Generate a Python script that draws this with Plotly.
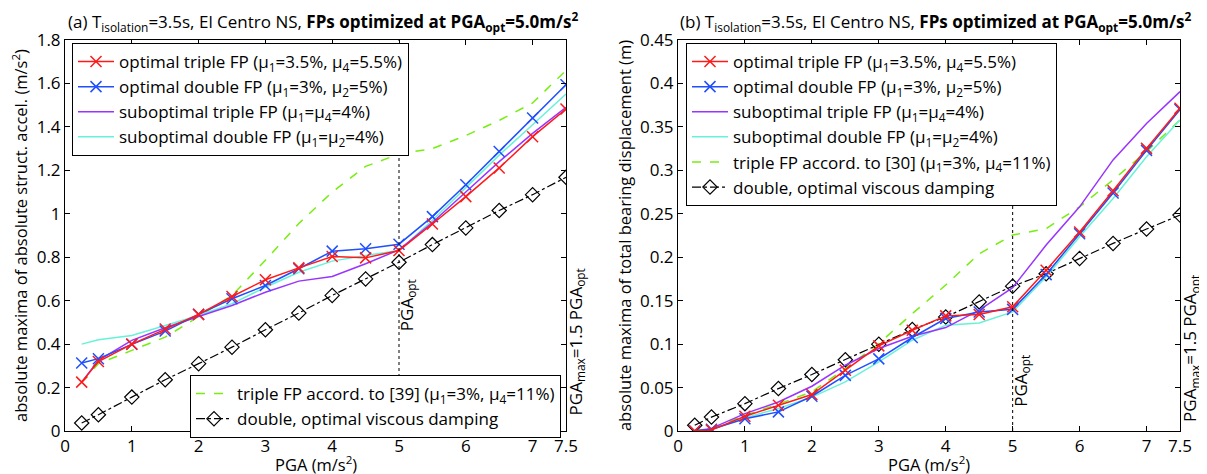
import plotly.graph_objects as go

# ---------------- data ----------------
PGA = [0.25, 0.5, 1, 1.5, 2, 2.5, 3, 3.5, 4, 4.5, 5, 5.5, 6, 6.5, 7, 7.5]
PGA_OPT = 5.0
PGA_MAX = 7.5

# (a) absolute maxima of absolute structural acceleration (m/s^2)
acc_opt_triple = [0.225, 0.32, 0.40, 0.47, 0.537, 0.619, 0.696, 0.751, 0.803, 0.797, 0.831, 0.953, 1.079, 1.211, 1.355, 1.482]
acc_opt_double = [0.313, 0.333, 0.399, 0.46, 0.537, 0.609, 0.67, 0.747, 0.828, 0.839, 0.860, 0.987, 1.134, 1.287, 1.441, 1.594]
acc_sub_triple = [0.225, 0.325, 0.417, 0.475, 0.527, 0.578, 0.639, 0.69, 0.711, 0.77, 0.834, 0.96, 1.10, 1.24, 1.37, 1.49]
acc_sub_double = [0.40, 0.42, 0.44, 0.486, 0.532, 0.586, 0.662, 0.731, 0.782, 0.808, 0.831, 0.97, 1.12, 1.27, 1.41, 1.551]
acc_ref_triple = [0.225, 0.31, 0.371, 0.432, 0.527, 0.624, 0.786, 0.955, 1.10, 1.218, 1.275, 1.30, 1.36, 1.43, 1.51, 1.66]
acc_viscous = [0.037, 0.075, 0.156, 0.236, 0.31, 0.386, 0.466, 0.543, 0.624, 0.70, 0.777, 0.858, 0.935, 1.015, 1.088, 1.168]

# (b) absolute maxima of total bearing displacement (m)
dis_opt_triple = [0.0, 0.001, 0.017, 0.0296, 0.042, 0.07, 0.098, 0.116, 0.1325, 0.134, 0.143, 0.185, 0.229, 0.2765, 0.3253, 0.3714]
dis_opt_double = [0.0, 0.002, 0.014, 0.022, 0.040, 0.064, 0.083, 0.1076, 0.1295, 0.137, 0.140, 0.18, 0.227, 0.274, 0.323, 0.370]
dis_sub_triple = [0.0, 0.003, 0.02, 0.0334, 0.0515, 0.0757, 0.095, 0.109, 0.119, 0.139, 0.165, 0.214, 0.258, 0.312, 0.354, 0.3906]
dis_sub_double = [0.0, 0.002, 0.015, 0.026, 0.039, 0.0565, 0.0795, 0.1045, 0.1218, 0.1244, 0.137, 0.1775, 0.2235, 0.2677, 0.3157, 0.358]
dis_ref_triple = [0.0, 0.003, 0.018, 0.031, 0.045, 0.072, 0.1007, 0.135, 0.168, 0.204, 0.2255, 0.233, 0.258, 0.289, 0.3215, 0.358]
dis_viscous = [0.0066, 0.016, 0.0315, 0.0488, 0.065, 0.082, 0.0999, 0.1168, 0.1313, 0.1486, 0.1667, 0.181, 0.1986, 0.2159, 0.2324, 0.2485]

x_ticks = [0, 1, 2, 3, 4, 5, 6, 7, 7.5]
x_ticklabels = ["0", "1", "2", "3", "4", "5", "6", "7", "7.5"]

names_common = [
    "optimal triple FP (μ<sub>1</sub>=3.5%, μ<sub>4</sub>=5.5%)",
    "optimal double FP (μ<sub>1</sub>=3%, μ<sub>2</sub>=5%)",
    "suboptimal triple FP (μ<sub>1</sub>=μ<sub>4</sub>=4%)",
    "suboptimal double FP (μ<sub>1</sub>=μ<sub>2</sub>=4%)",
]
name_ref_a = "triple FP accord. to [39] (μ<sub>1</sub>=3%, μ<sub>4</sub>=11%)"
name_ref_b = "triple FP accord. to [30] (μ<sub>1</sub>=3%, μ<sub>4</sub>=11%)"
name_visc = "double, optimal viscous damping"
x_title = "PGA (m/s<sup>2</sup>)"

# ---------------- style ----------------
FONT = "Open Sans"
RED = "#ff1a1a"
BLUE = "#1f4fff"
PURPLE = "#9933ff"
CYAN = "#66f2d9"
GREEN = "#77ee11"
W = 1207
H = 474
OFF = 8          # page body margin of the HTML page
LEG_SIZE = 17

fig = go.Figure()


def add_panel(xa, ya, ys, names, legends):
    (opt_t, opt_d, sub_t, sub_d, ref_t, visc) = ys
    (lg_main, lg_extra) = legends
    fig.add_trace(go.Scatter(x=PGA, y=ref_t, mode="lines", name=names[4],
                             line=dict(color=GREEN, width=1.5, dash="dash"),
                             xaxis=xa, yaxis=ya, legend=lg_extra, legendrank=5))
    fig.add_trace(go.Scatter(x=PGA, y=visc, mode="lines+markers", name=names[5],
                             line=dict(color="black", width=1.2, dash="dashdot"),
                             marker=dict(symbol="diamond-open", size=11, color="black",
                                         line=dict(width=1.2, color="black")),
                             xaxis=xa, yaxis=ya, legend=lg_extra, legendrank=6))
    fig.add_trace(go.Scatter(x=PGA, y=sub_d, mode="lines", name=names[3],
                             line=dict(color=CYAN, width=1.5),
                             xaxis=xa, yaxis=ya, legend=lg_main, legendrank=4))
    fig.add_trace(go.Scatter(x=PGA, y=sub_t, mode="lines", name=names[2],
                             line=dict(color=PURPLE, width=1.5),
                             xaxis=xa, yaxis=ya, legend=lg_main, legendrank=3))
    fig.add_trace(go.Scatter(x=PGA, y=opt_d, mode="lines+markers", name=names[1],
                             line=dict(color=BLUE, width=1.5),
                             marker=dict(symbol="x-thin-open", size=11,
                                         line=dict(width=1.5, color=BLUE)),
                             xaxis=xa, yaxis=ya, legend=lg_main, legendrank=2))
    fig.add_trace(go.Scatter(x=PGA, y=opt_t, mode="lines+markers", name=names[0],
                             line=dict(color=RED, width=1.5),
                             marker=dict(symbol="x-thin-open", size=11,
                                         line=dict(width=1.5, color=RED)),
                             xaxis=xa, yaxis=ya, legend=lg_main, legendrank=1))


add_panel("x", "y",
          (acc_opt_triple, acc_opt_double, acc_sub_triple, acc_sub_double, acc_ref_triple, acc_viscous),
          names_common + [name_ref_a, name_visc], ("legend", "legend2"))
add_panel("x2", "y2",
          (dis_opt_triple, dis_opt_double, dis_sub_triple, dis_sub_double, dis_ref_triple, dis_viscous),
          names_common + [name_ref_b, name_visc], ("legend3", "legend3"))

# geometry (screen pixels -> paper)
L1, R1 = 65, 566
L2, R2 = 678, 1180
TOP, BOT = 40, 431


def px(v):
    return (v - OFF) / W


def py(v):
    return 1 - (v - OFF) / H


def fnt(size):
    return dict(family=FONT, size=size, color="black")


axis_common = dict(
    showgrid=False, zeroline=False, showline=True, linecolor="black", linewidth=1,
    mirror="ticks", ticks="inside", ticklen=5, tickcolor="black", automargin=False,
    tickfont=fnt(17),
)

legend_common = dict(xanchor="left", yanchor="top", bgcolor="white",
                     bordercolor="black", borderwidth=1,
                     font=fnt(LEG_SIZE), tracegroupgap=0, itemwidth=36)

fig.update_layout(
    width=W, height=H,
    margin=dict(l=0, r=0, t=0, b=0, autoexpand=False),
    paper_bgcolor="white", plot_bgcolor="white",
    font=fnt(16),
    xaxis=dict(domain=[px(L1), px(R1)], range=[0, 7.5], tickvals=x_ticks, ticktext=x_ticklabels,
               anchor="y", **axis_common),
    yaxis=dict(domain=[py(BOT), py(TOP)], range=[0, 1.8], dtick=0.2, anchor="x",
               title=dict(text="absolute maxima of absolute struct. accel. (m/s<sup>2</sup>)", standoff=4,
                          font=fnt(16.5)), **axis_common),
    xaxis2=dict(domain=[px(L2), px(R2)], range=[0, 7.5], tickvals=x_ticks, ticktext=x_ticklabels,
                anchor="y2", **axis_common),
    yaxis2=dict(domain=[py(BOT), py(TOP)], range=[0, 0.45], dtick=0.05, anchor="x2",
                title=dict(text="absolute maxima of total bearing displacement (m)", standoff=4,
                           font=fnt(16.5)), **axis_common),
    legend=dict(x=px(72), y=py(43), **legend_common),
    legend2=dict(x=px(190), y=py(375), **legend_common),
    legend3=dict(x=px(686), y=py(43), **legend_common),
)

# x axis titles
for xc in ((L1 + R1) / 2, (L2 + R2) / 2):
    fig.add_annotation(text=x_title, xref="paper", yref="paper", x=px(xc), y=py(477),
                       xanchor="center", yanchor="bottom", showarrow=False, font=fnt(16.5),
                       borderpad=0)

# dotted vertical line at PGA_opt
for xr, yr in (("x", "y domain"), ("x2", "y2 domain")):
    fig.add_shape(type="line", xref=xr, yref=yr, x0=PGA_OPT, x1=PGA_OPT, y0=0, y1=1,
                  line=dict(color="black", width=1, dash="dot"), layer="above")

title_txt = ("T<sub>isolation</sub>=3.5s, El Centro NS, "
             "<b>FPs optimized at PGA<sub>opt</sub>=5.0m/s<sup>2</sup></b>")
fig.add_annotation(text="(a) " + title_txt, xref="paper", yref="paper", x=px(66), y=py(21),
                   xanchor="left", yanchor="middle", showarrow=False, font=fnt(17))
fig.add_annotation(text="(b) " + title_txt, xref="paper", yref="paper", x=px(678), y=py(21),
                   xanchor="left", yanchor="middle", showarrow=False, font=fnt(17))

# rotated annotations
ANN = dict(textangle=-90, xanchor="left", showarrow=False, font=fnt(17))
fig.add_annotation(text="PGA<sub>opt</sub>", xref="x", yref="y", x=PGA_OPT, y=0.577, xshift=-6, **ANN)
fig.add_annotation(text="PGA<sub>opt</sub>", xref="x2", yref="y2", x=PGA_OPT, y=0.058, xshift=-6, **ANN)
fig.add_annotation(text="PGA<sub>max</sub>=1.5 PGA<sub>opt</sub>", xref="x", yref="y",
                   x=PGA_MAX, y=0.41, xshift=-4, **ANN)
fig.add_annotation(text="PGA<sub>max</sub>=1.5 PGA<sub>opt</sub>", xref="x2", yref="y2",
                   x=PGA_MAX, y=0.095, xshift=-4, **ANN)

fig.write_html("out.html")
